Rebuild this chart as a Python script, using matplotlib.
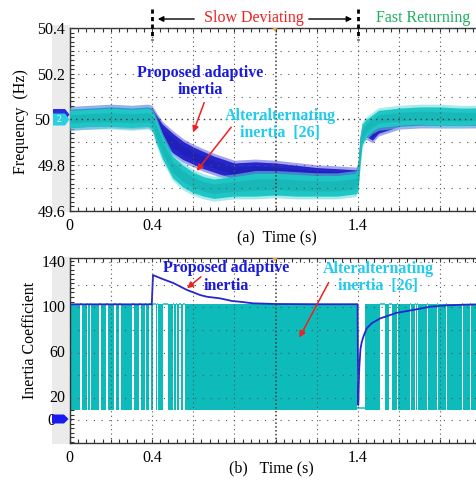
import numpy as np
import matplotlib
matplotlib.use("Agg")
import matplotlib.pyplot as plt
import matplotlib.transforms as mtransforms
from matplotlib.patches import Polygon, Rectangle
from matplotlib.ticker import MultipleLocator

plt.rcParams['font.family'] = ['Liberation Serif', 'DejaVu Serif']

# ---------------- (a) grid frequency (noise band envelopes, Hz) ----------------
freq_t = [0.0, 0.1, 0.2, 0.3, 0.38, 0.40, 0.42, 0.45, 0.50, 0.55, 0.60, 0.65, 0.70,
          0.80, 0.90, 1.00, 1.10, 1.20, 1.30, 1.39, 1.40, 1.41, 1.42, 1.44, 1.47,
          1.50, 1.60, 1.70, 1.80, 1.90, 2.00]
alt_lo = [49.965, 49.97, 49.97, 49.965, 49.97, 49.96, 49.90, 49.83, 49.745, 49.705,
          49.68, 49.665, 49.655, 49.665, 49.665, 49.67, 49.665, 49.665, 49.665, 49.675,
          49.69, 49.80, 49.89, 49.925, 49.95, 49.965, 49.975, 49.98, 49.975, 49.975, 49.98]
alt_hi = [50.04, 50.045, 50.05, 50.045, 50.05, 50.04, 50.00, 49.93, 49.84, 49.80,
          49.77, 49.75, 49.74, 49.75, 49.765, 49.765, 49.76, 49.755, 49.755, 49.765,
          49.80, 49.92, 49.98, 50.00, 50.02, 50.04, 50.05, 50.055, 50.055, 50.05, 50.05]
prop_lo = [49.965, 49.97, 49.975, 49.97, 49.975, 49.965, 49.93, 49.895, 49.855, 49.825,
           49.805, 49.785, 49.77, 49.74, 49.74, 49.735, 49.735, 49.735, 49.73, 49.73,
           49.75, 49.86, 49.92, 49.925, 49.91, 49.94, 49.97, 49.975, 49.975, 49.975, 49.975]
prop_hi = [50.045, 50.05, 50.055, 50.05, 50.055, 50.05, 50.02, 49.98, 49.94, 49.905,
           49.88, 49.86, 49.84, 49.81, 49.815, 49.81, 49.80, 49.79, 49.785, 49.78,
           49.80, 49.92, 49.97, 49.975, 49.96, 49.99, 50.03, 50.04, 50.04, 50.035, 50.04]
# occasional noise spikes reach this far beyond the band
spike_reach = 0.012

# ---------------- (b) inertia coefficient ----------------
inertia_t = [0.0, 0.399, 0.402, 0.405, 0.41, 0.45, 0.503, 0.57, 0.634, 0.667, 0.73,
             0.79, 0.827, 0.89, 1.0, 1.2, 1.398, 1.401, 1.406, 1.412, 1.418, 1.426,
             1.442, 1.466, 1.507, 1.588, 1.667, 1.75, 1.83, 1.92, 2.0]
prop_inertia = [101.5, 101.5, 115, 127.4, 127.0, 124.0, 120.4, 114.2, 109.7, 108.2,
                106.8, 104.4, 103.8, 102.4, 101.8, 101.6, 101.6, 12.4, 45, 62, 68,
                72.8, 80.2, 84.7, 89, 94, 96.5, 99.4, 100.6, 101.2, 101.5]
# alternating inertia toggles between these two levels
alt_levels = (8, 102)
# intervals where the alternating signal stops toggling, and the level it rests at
alt_gap_start = [0.052, 0.083, 0.099, 0.145, 0.179, 0.217, 0.242, 0.305, 0.339, 0.366,
                 0.387, 0.403, 0.425, 0.455, 0.500, 0.517, 0.533, 0.552,
                 1.393, 1.507, 1.552, 1.588, 1.612, 1.652, 1.677, 1.688, 1.733,
                 1.785, 1.827, 1.906, 1.944]
alt_gap_end = [0.058, 0.089, 0.105, 0.151, 0.185, 0.223, 0.248, 0.311, 0.345, 0.372,
               0.394, 0.418, 0.431, 0.479, 0.506, 0.523, 0.539, 0.558,
               1.434, 1.531, 1.564, 1.592, 1.616, 1.657, 1.681, 1.692, 1.738,
               1.790, 1.832, 1.911, 1.949]
alt_gap_level = [102] * 18 + [10] + [102] * 12

x_ticks_a = [0, 0.4, 1.4]
x_ticklabels_a = ['0', '0.4', '1.4']
x_ticks_b = [0, 0.4, 1.4, 2]
x_ticklabels_b = ['0', '0.4', '1.4', '2']
f_ticks = [49.6, 49.8, 50.0, 50.2, 50.4]
f_ticklabels = ['49.6', '49.8', '50', '50.2', '50.4']
h_ticks = [0, 20, 60, 100, 140]
h_ticklabels = ['0', '20', '60', '100', '140']

BLUE = '#2626CC'
BLUE_DK = '#1C1CAE'
BLUE_LT = '#5A5AE0'
CYAN = '#1FC6C6'
CYAN_DK = '#14B0B0'
CYAN_LT = '#60DCDC'
TEAL = '#0DBBBB'
TXT_BLUE = '#1A1ADD'
TXT_CYAN = '#22CCEE'
RED = '#F02020'
GREEN = '#1DB060'
SPINE = '#333333'
GRID = '#555555'

W, H = 477, 480
fig = plt.figure(figsize=(W / 100, H / 100), dpi=100)

# pixel-space background layer (scope side strips)
bg = fig.add_axes([0, 0, 1, 1], zorder=0)
bg.set_xlim(0, W); bg.set_ylim(H, 0); bg.axis('off')
bg.add_patch(Rectangle((52, 25), 17.6, 187, color='#EBEBEB', lw=0))
bg.add_patch(Rectangle((52, 257), 17.6, 187, color='#EBEBEB', lw=0))

x0, x1 = 69.6 / W, 412 / W
ax1 = fig.add_axes([x0, 1 - 211 / H, x1, 183 / H], zorder=1)
ax2 = fig.add_axes([x0, 1 - 443 / H, x1, 185 / H], zorder=1)


def scope_style(ax, ylo, yhi, ystep, yminor, ycenter):
    ax.set_xlim(0, 2)
    ax.set_ylim(ylo, yhi)
    for s in ax.spines.values():
        s.set_color(SPINE)
        s.set_linewidth(1.0)
    ax.xaxis.set_minor_locator(MultipleLocator(0.04))
    ax.yaxis.set_minor_locator(MultipleLocator(yminor))
    ax.tick_params(which='both', direction='in', top=True, right=True,
                   length=3, width=0.8, color=SPINE, labelsize=11.5)
    ax.tick_params(axis='x', pad=5)
    ax.tick_params(axis='y', pad=3)
    for gx in np.arange(0.2, 1.99, 0.2):
        if abs(gx - 1.0) < 1e-6:
            ax.axvline(gx, color='#333333', lw=1.1, ls=(0, (1, 1.5)), zorder=4)
        else:
            ax.axvline(gx, color=GRID, lw=0.8, ls=(0, (1, 3)), zorder=4)
    for v in np.arange(ylo, yhi + 1e-9, ystep):
        if abs(v - ycenter) < 1e-6:
            ax.axhline(v, color='#333333', lw=1.0, ls=(0, (1, 3)), zorder=4)
        else:
            ax.axhline(v, color=GRID, lw=0.8, ls=(0, (1, 6)), zorder=4)


def shift_label(ax, text, dx_px):
    for lab in ax.get_yticklabels():
        if lab.get_text() == text:
            off = mtransforms.ScaledTranslation(dx_px / 100, 0, fig.dpi_scale_trans)
            lab.set_transform(lab.get_transform() + off)


def noisy_band(ax, t, lo, hi, base, dark, light, z):
    t, lo, hi = np.asarray(t), np.asarray(lo), np.asarray(hi)
    ax.fill_between(t, lo - spike_reach, hi + spike_reach, color=light, lw=0,
                    alpha=0.55, zorder=z)
    ax.fill_between(t, lo, hi, color=base, lw=0, zorder=z)
    c, w = (lo + hi) / 2, (hi - lo) / 2
    ax.fill_between(t, c - 0.5 * w, c + 0.5 * w, color=dark, lw=0, alpha=0.6, zorder=z)


# ---- panel (a) ----
scope_style(ax1, 49.6, 50.4, 0.1, 0.02, 50.0)
ax1.set_xticks(x_ticks_a, x_ticklabels_a)
ax1.set_yticks(f_ticks, f_ticklabels)
shift_label(ax1, '50', -15)

noisy_band(ax1, freq_t, prop_lo, prop_hi, BLUE, BLUE_DK, BLUE_LT, 2)
noisy_band(ax1, freq_t, alt_lo, alt_hi, CYAN, CYAN_DK, CYAN_LT, 3)

ax1.text(0.633, 50.167, 'Proposed adaptive\ninertia', color=TXT_BLUE, fontsize=11.5,
         fontweight='bold', ha='center', va='center', linespacing=1.12, zorder=6)
ax1.annotate('', xy=(0.595, 49.932), xytext=(0.658, 50.085),
             arrowprops=dict(arrowstyle='-|>', color=RED, lw=1.1, mutation_scale=9), zorder=6)
ax1.text(1.021, 49.978, 'Alteralternating\ninertia  [26]', color=TXT_CYAN, fontsize=11.5,
         fontweight='bold', ha='center', va='center', linespacing=1.12, zorder=6)
ax1.annotate('', xy=(0.609, 49.766), xytext=(0.793, 49.976),
             arrowprops=dict(arrowstyle='-|>', color=RED, lw=1.1, mutation_scale=9), zorder=6)

# ---- panel (b) ----
scope_style(ax2, -21.2, 142.5, 20.0, 4, 60.0)
ax2.set_xticks(x_ticks_b, x_ticklabels_b)
ax2.set_yticks(h_ticks, h_ticklabels)
shift_label(ax2, '0', -10)

# toggling band = complement of the quiet intervals
edges = [0.0]
for s, e in zip(alt_gap_start, alt_gap_end):
    edges += [s, e]
edges.append(2.0)
lo, hi = alt_levels
for s, e in zip(edges[0::2], edges[1::2]):
    ax2.fill_between([s, e], lo, hi, color=TEAL, lw=0, zorder=2)
for s, e, lev in zip(alt_gap_start, alt_gap_end, alt_gap_level):
    ax2.plot([s, e], [lev, lev], color=CYAN, lw=1.2, zorder=2, solid_capstyle='butt')

ax2.plot(inertia_t, prop_inertia, color=BLUE, lw=1.3, zorder=3)

ax2.text(0.759, 125.7, 'Proposed adaptive\ninertia', color=TXT_BLUE, fontsize=11.5,
         fontweight='bold', ha='center', va='center', linespacing=1.12, zorder=6)
ax2.annotate('', xy=(0.560, 114.2), xytext=(0.648, 127.4),
             arrowprops=dict(arrowstyle='-|>', color=RED, lw=1.1, mutation_scale=9), zorder=6)
ax2.text(1.497, 125.2, 'Alteralternating\ninertia  [26]', color=TXT_CYAN, fontsize=11.5,
         fontweight='bold', ha='center', va='center', linespacing=1.12, zorder=6)
ax2.annotate('', xy=(1.109, 69.9), xytext=(1.264, 123.0),
             arrowprops=dict(arrowstyle='-|>', color=RED, lw=1.1, mutation_scale=9), zorder=6)

# ---------------- foreground pixel layer: labels and scope markers ----------------
fg = fig.add_axes([0, 0, 1, 1], zorder=5)
fg.set_xlim(0, W); fg.set_ylim(H, 0); fg.axis('off'); fg.patch.set_alpha(0)

for xp in (152, 358):
    fg.plot([xp, xp], [9, 40], color='black', lw=2.0, ls=(0, (1.5, 1.2)))
fg.annotate('', xy=(155, 19), xytext=(197, 19),
            arrowprops=dict(arrowstyle='-|>', color='black', lw=1.0, mutation_scale=8))
fg.annotate('', xy=(355, 19), xytext=(306, 19),
            arrowprops=dict(arrowstyle='-|>', color='black', lw=1.0, mutation_scale=8))
fg.text(253.5, 18, 'Slow Deviating', color=RED, fontsize=11.5, ha='center', va='center')
fg.text(423, 18, 'Fast Returning', color=GREEN, fontsize=11.5, ha='center', va='center')

fg.text(277, 238, '(a)  Time (s)', fontsize=11.5, ha='center', va='center')
fg.text(271, 468, '(b)   Time (s)', fontsize=11.5, ha='center', va='center')
fg.text(21, 122, 'Frequency  (Hz)', fontsize=11.5, rotation=90, ha='center', va='center')
fg.text(30, 340, 'Inertia Coefficient', fontsize=11.5, rotation=90, ha='center', va='center')

# channel tags on the left strip
fg.add_patch(Polygon([(53, 109), (65, 109), (69.5, 114.5), (65, 121), (53, 121)],
                     closed=True, color='#2B2BE0', lw=0))
fg.add_patch(Polygon([(53, 113.5), (65, 113.5), (69.5, 119.5), (65, 125.5), (53, 125.5)],
                     closed=True, color='#27D0E0', lw=0))
fg.text(59, 119.5, '2', color='white', fontsize=7, ha='center', va='center')
fg.add_patch(Polygon([(52, 414.5), (64, 414.5), (68.5, 419), (64, 423.5), (52, 423.5)],
                     closed=True, color='#1A1AF0', lw=0))

# trigger markers
for yp in (28, 258):
    fg.add_patch(Polygon([(272.5, yp), (277.5, yp), (275, yp + 3.5)], closed=True,
                         color='#F0A030', lw=0))

fig.savefig('out.png', dpi=100)
